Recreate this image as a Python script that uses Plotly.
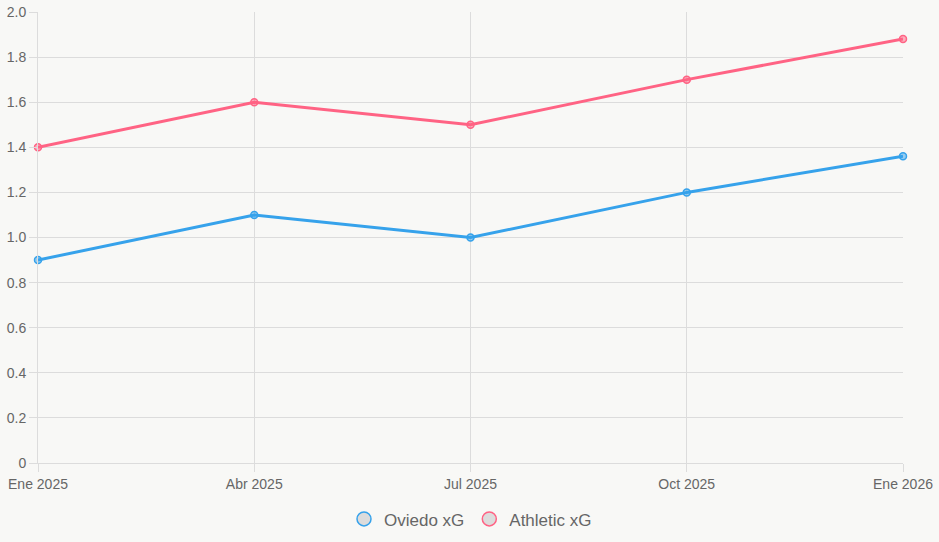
import plotly.graph_objects as go

categories = ["Ene 2025", "Abr 2025", "Jul 2025", "Oct 2025", "Ene 2026"]
oviedo_xg = [0.9, 1.1, 1.0, 1.2, 1.36]
athletic_xg = [1.4, 1.6, 1.5, 1.7, 1.88]
y_tick_vals = [0, 0.2, 0.4, 0.6, 0.8, 1.0, 1.2, 1.4, 1.6, 1.8, 2.0]
y_tick_text = ["0", "0.2", "0.4", "0.6", "0.8", "1.0", "1.2", "1.4", "1.6", "1.8", "2.0"]

BLUE = "#36a2eb"
PINK = "#ff6384"
BG = "#f8f8f6"
GRID = "#dcdcdc"
TXT = "#666666"
FONT = "Arial, Liberation Sans, sans-serif"

fig = go.Figure()
series = [("Oviedo xG", oviedo_xg, BLUE, "rgba(54,162,235,0.5)"),
          ("Athletic xG", athletic_xg, PINK, "rgba(255,99,132,0.5)")]
for name, vals, col, fill in series:
    fig.add_trace(go.Scatter(
        x=categories, y=vals, mode="lines+markers", name=name, showlegend=False,
        line=dict(color=col, width=3),
        marker=dict(size=7, color=fill, line=dict(color=col, width=1.5)),
        cliponaxis=False,
    ))
for name, vals, col, fill in series:
    fig.add_trace(go.Scatter(
        x=[None], y=[None], mode="markers", name=name, showlegend=True,
        marker=dict(size=14, color="#dcdcdc", line=dict(color=col, width=1.5)),
    ))

fig.update_layout(
    width=939, height=542,
    margin=dict(l=38, r=36, t=12, b=79, autoexpand=False),
    paper_bgcolor=BG, plot_bgcolor=BG,
    font=dict(family=FONT, color=TXT, size=14),
    legend=dict(orientation="h", x=0.5, xanchor="center", y=-0.085, yanchor="top",
                font=dict(size=17, color=TXT), itemwidth=30, traceorder="normal"),
    xaxis=dict(
        type="category", range=[0, 4], showgrid=True, gridcolor=GRID, gridwidth=1,
        showline=True, linecolor=GRID, linewidth=1, automargin=False,
        ticks="outside", ticklen=8, tickcolor=GRID, tickfont=dict(size=14, color=TXT),
        zeroline=False,
    ),
    yaxis=dict(
        range=[0, 2.0], tickvals=y_tick_vals, ticktext=y_tick_text,
        showgrid=True, gridcolor=GRID, gridwidth=1, automargin=False,
        showline=True, linecolor=GRID, linewidth=1,
        ticks="outside", ticklen=8, tickcolor=GRID, tickfont=dict(size=14, color=TXT),
        zeroline=False,
    ),
)

fig.write_html("out.html")
